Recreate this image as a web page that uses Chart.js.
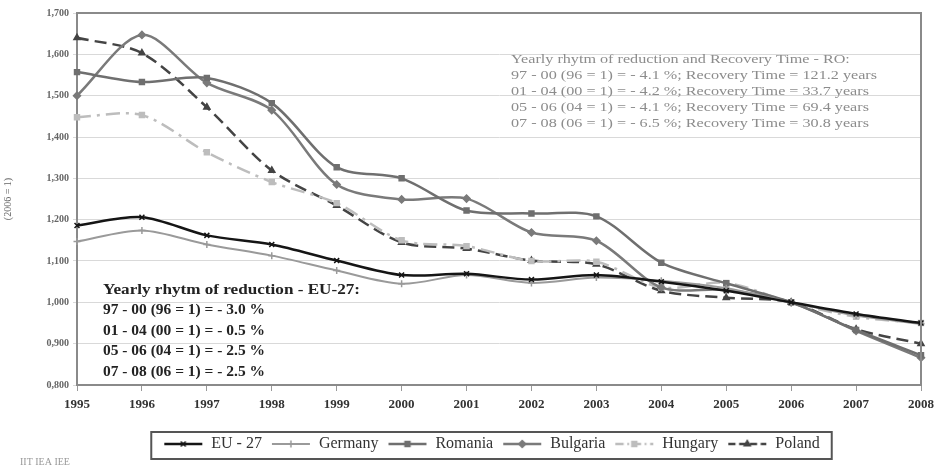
<!DOCTYPE html>
<html>
<head>
<meta charset="utf-8">
<script src="https://cdn.jsdelivr.net/npm/chart.js@4/dist/chart.umd.min.js"></script>
<style>
  html, body { margin: 0; padding: 0; background: #fff; }
  #wrap { width: 940px; height: 468px; }
</style>
</head>
<body>
<div id="wrap"><canvas id="chart"></canvas></div>
<script>
// values normalised to 2006 = 1
const years = ["1995", "1996", "1997", "1998", "1999", "2000", "2001", "2002", "2003", "2004", "2005", "2006", "2007", "2008"];
const eu27 = [1.186, 1.206, 1.162, 1.140, 1.101, 1.066, 1.069, 1.055, 1.066, 1.050, 1.028, 1.000, 0.972, 0.950];
const germany = [1.147, 1.174, 1.140, 1.113, 1.077, 1.045, 1.066, 1.047, 1.060, 1.052, 1.034, 1.000, 0.968, 0.948];
const romania = [1.557, 1.533, 1.543, 1.482, 1.327, 1.300, 1.222, 1.215, 1.208, 1.096, 1.046, 1.000, 0.933, 0.872];
const bulgaria = [1.500, 1.647, 1.531, 1.465, 1.285, 1.249, 1.251, 1.169, 1.149, 1.036, 1.030, 1.000, 0.931, 0.866];
const hungary = [1.448, 1.453, 1.363, 1.291, 1.240, 1.150, 1.136, 1.100, 1.098, 1.036, 1.047, 1.000, 0.965, 0.950];
const poland = [1.640, 1.603, 1.472, 1.319, 1.234, 1.145, 1.130, 1.101, 1.092, 1.028, 1.011, 1.000, 0.935, 0.900];
const yTicks = [0.8, 0.9, 1.0, 1.1, 1.2, 1.3, 1.4, 1.5, 1.6, 1.7];

const euNote = [
  "Yearly rhytm of reduction - EU-27:",
  "97 - 00 (96 = 1) = - 3.0 %",
  "01 - 04 (00 = 1) = - 0.5 %",
  "05 - 06 (04 = 1) = - 2.5 %",
  "07 - 08 (06 = 1) = - 2.5 %",
];
const roNote = [
  "Yearly rhytm of reduction and Recovery Time - RO:",
  "97 - 00 (96 = 1) = - 4.1 %; Recovery Time = 121.2 years",
  "01 - 04 (00 = 1) = - 4.2 %; Recovery Time = 33.7 years",
  "05 - 06 (04 = 1) = - 4.1 %; Recovery Time = 69.4 years",
  "07 - 08 (06 = 1) = - 6.5 %; Recovery Time = 30.8 years",
];
const sourceNote = "IIT IEA IEE";

const SERIF = "'Liberation Serif', 'DejaVu Serif', serif";
const LEGEND_SHIFT = 30;

function series(label, data, color, width, dash, point, radius) {
  return {
    label,
    data,
    borderColor: color,
    backgroundColor: color,
    borderWidth: width,
    borderDash: dash,
    pointStyle: point,
    pointRadius: radius,
    pointBorderWidth: 1.5,
    tension: 0.3,
  };
}

// small line + marker picture for the legend
function swatch(ds) {
  const c = document.createElement("canvas");
  c.width = 40;
  c.height = 12;
  const g = c.getContext("2d");
  g.strokeStyle = ds.borderColor;
  g.lineWidth = ds.borderWidth;
  g.setLineDash(ds.borderDash.map((d) => d * 0.6));
  g.beginPath();
  g.moveTo(1, 6);
  g.lineTo(39, 6);
  g.stroke();
  g.setLineDash([]);
  g.lineWidth = 1.5;
  g.fillStyle = ds.borderColor;
  Chart.helpers.drawPoint(g, { pointStyle: ds.pointStyle, radius: 3.5, borderWidth: 1.5 }, 20, 6);
  return c;
}

// frame, notes and the legend box
const decor = {
  id: "decor",
  beforeDraw(chart) {
    const lg = chart.legend;
    if (lg && !lg._shifted) {
      lg.left += LEGEND_SHIFT;
      lg.right += LEGEND_SHIFT;
      lg._shifted = true;
    }
  },
  afterDraw(chart) {
    const { ctx, chartArea: a } = chart;
    ctx.save();
    ctx.strokeStyle = "#8a8a8a";
    ctx.lineWidth = 2;
    ctx.beginPath();
    ctx.moveTo(a.left, a.top);
    ctx.lineTo(a.right, a.top);
    ctx.lineTo(a.right, a.bottom);
    ctx.stroke();

    ctx.textBaseline = "middle";
    const stretched = (t, x, y, sx) => {
      ctx.save();
      ctx.translate(x, y);
      ctx.scale(sx, 1);
      ctx.fillText(t, 0, 0);
      ctx.restore();
    };

    ctx.fillStyle = "#222";
    ctx.font = "bold 14px " + SERIF;
    stretched(euNote[0], 103, 290, 257 / ctx.measureText(euNote[0]).width);
    ctx.font = "bold 15px " + SERIF;
    const euSx = 162 / ctx.measureText(euNote[1]).width;
    euNote.slice(1).forEach((t, i) => stretched(t, 103, 310.5 + i * 20.5, euSx));

    ctx.fillStyle = "#8c8c8c";
    ctx.font = "12.5px " + SERIF;
    const roSx = 366 / ctx.measureText(roNote[1]).width;
    roNote.forEach((t, i) => stretched(t, 511, 60 + i * 16, roSx));

    ctx.fillStyle = "#999";
    ctx.font = "10px " + SERIF;
    ctx.fillText(sourceNote, 20, 462);

    const lg = chart.legend;
    if (lg && lg.legendHitBoxes) {
      const hit = lg.legendHitBoxes;
      const x0 = Math.min(...hit.map((h) => h.left)) + LEGEND_SHIFT - 12;
      const x1 = Math.max(...hit.map((h) => h.left + h.width)) + LEGEND_SHIFT + 12;
      ctx.strokeStyle = "#555";
      ctx.lineWidth = 2;
      ctx.strokeRect(x0, 432, x1 - x0, 27);
    }
    ctx.restore();
  },
};

new Chart(document.getElementById("chart"), {
  type: "line",
  data: {
    labels: years,
    datasets: [
      series("EU - 27", eu27, "#151515", 2.5, [], "crossRot", 3.5),
      series("Germany", germany, "#9a9a9a", 2, [], "cross", 3.5),
      series("Romania", romania, "#6f6f6f", 2.5, [], "rect", 3.5),
      series("Bulgaria", bulgaria, "#7a7a7a", 2.5, [], "rectRot", 3.5),
      series("Hungary", hungary, "#bdbdbd", 2.5, [14, 6, 3, 6], "rect", 3.5),
      series("Poland", poland, "#444444", 2.5, [12, 6], "triangle", 3.5),
    ],
  },
  options: {
    responsive: true,
    maintainAspectRatio: false,
    animation: false,
    layout: { padding: { top: 13, right: 17, bottom: 6, left: 0 } },
    plugins: {
      tooltip: { enabled: false },
      legend: {
        position: "bottom",
        labels: {
          usePointStyle: true,
          pointStyleWidth: 40,
          padding: 9,
          color: "#333",
          font: { family: SERIF, size: 16 },
          generateLabels(chart) {
            return Chart.defaults.plugins.legend.labels.generateLabels(chart).map((item) => {
              item.pointStyle = swatch(chart.data.datasets[item.datasetIndex]);
              return item;
            });
          },
        },
      },
    },
    scales: {
      x: {
        type: "category",
        offset: false,
        grid: { drawOnChartArea: false, drawTicks: true, tickLength: 6, color: "#999" },
        border: { color: "#8a8a8a", width: 2 },
        ticks: {
          color: "#333",
          padding: 6,
          maxRotation: 0,
          autoSkip: false,
          font: { family: SERIF, size: 13, weight: "bold" },
        },
        afterFit(scale) { scale.height = 42; },
      },
      y: {
        min: 0.8,
        max: 1.7,
        afterBuildTicks(scale) { scale.ticks = yTicks.map((v) => ({ value: v })); },
        grid: { color: "#d9d9d9", lineWidth: 1, tickLength: 4 },
        border: { color: "#8a8a8a", width: 2 },
        ticks: {
          color: "#666",
          padding: 4,
          font: { family: SERIF, size: 10, weight: "bold" },
          callback: (v) => Number(v).toFixed(3).replace(".", ","),
        },
        title: {
          display: true,
          text: "(2006 = 1)",
          color: "#666",
          font: { family: SERIF, size: 10 },
          padding: 2,
        },
        afterFit(scale) { scale.width = 77; },
      },
    },
  },
  plugins: [decor],
});
</script>
</body>
</html>
